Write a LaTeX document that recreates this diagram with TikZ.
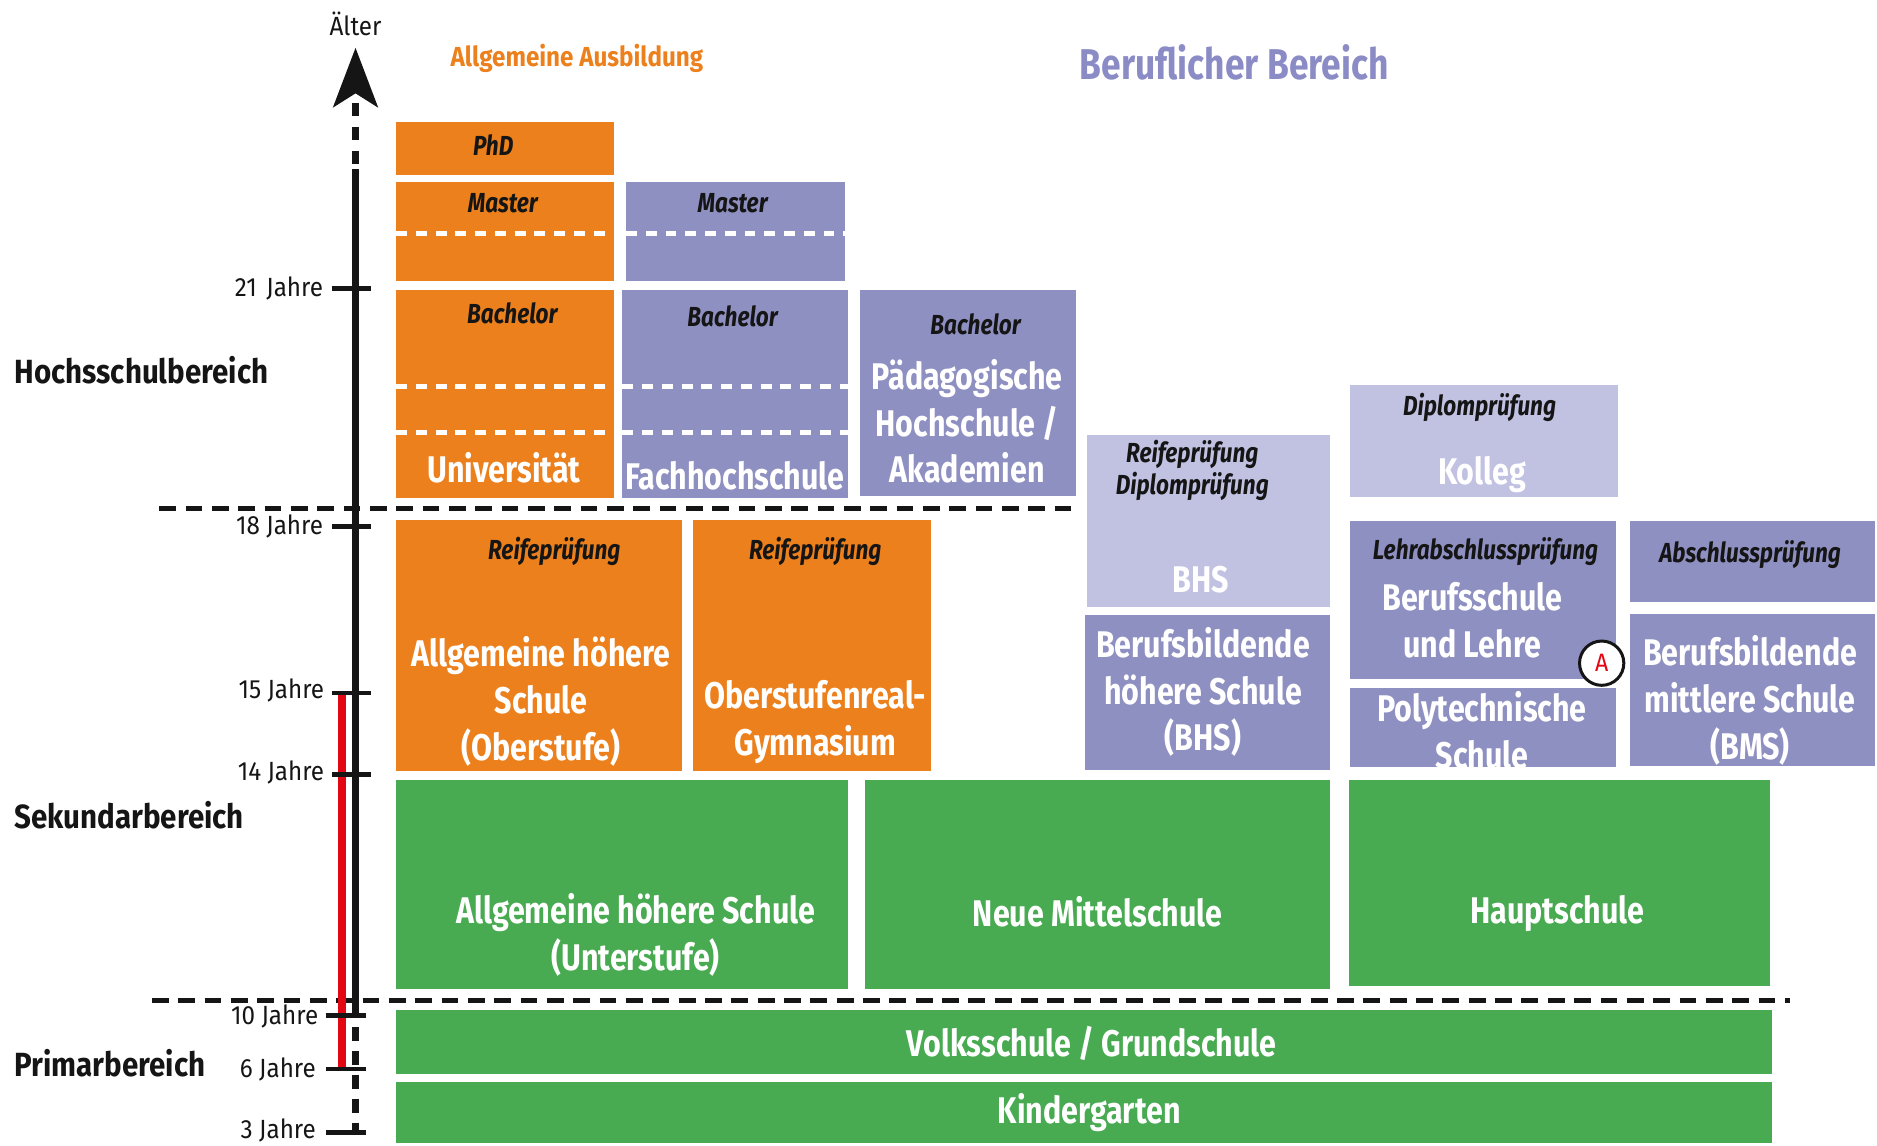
\documentclass[tikz,border=0pt]{standalone}
\usepackage{fontspec}
\setmainfont{Fira Sans}[FakeStretch=0.82]
\newfontfamily\agefont{Fira Sans}[FakeStretch=0.92]
\newfontfamily\secfont{Fira Sans}[FakeStretch=0.88]
\definecolor{orng}{HTML}{EC801C}
\definecolor{purp}{HTML}{8F90C2}
\definecolor{lpurp}{HTML}{C1C2E2}
\definecolor{grn}{HTML}{48AA51}
\definecolor{redl}{HTML}{E30613}
\definecolor{ttl}{HTML}{8B8CC6}
\definecolor{ink}{HTML}{151515}
\tikzset{
  blk/.style={inner sep=0, outer sep=0, anchor=north west, draw=none},
  wt/.style={text=white, font=\fontsize{31}{39}\selectfont\bfseries, align=center, inner sep=0},
  lb/.style={text=ink, font=\fontsize{23}{27}\selectfont\bfseries\itshape, align=center, inner sep=0},
  wdash/.style={white, line width=4pt, dash pattern=on 9pt off 7.5pt},
  bdash/.style={ink, line width=4.5pt, dash pattern=on 14pt off 8pt},
  sec/.style={text=ink, font=\secfont\fontsize{28}{30}\selectfont\bfseries, anchor=west, inner sep=0},
  age/.style={text=ink, font=\agefont\fontsize{22}{24}\selectfont, anchor=east, inner sep=0},
  tickline/.style={line width=4pt, ink},
  axisline/.style={line width=5.5pt, ink},
}
\newcommand\bx[6]{\node[blk, fill=#6, minimum width=#4pt, minimum height=#5pt] (#1) at (#2,#3) {};}
\begin{document}
\begin{tikzpicture}[x=1pt, y=-1pt]
\useasboundingbox (0,0) rectangle (1568,957);
% headers
\node[text=ink, font=\agefont\fontsize{22}{24}\selectfont, inner sep=0] (alter) at (297,20) {Älter};
\node[text=orng, font=\secfont\fontsize{23}{25}\selectfont\bfseries, inner sep=0] (allg) at (482,49) {Allgemeine Ausbildung};
\node[text=ttl, font=\fontsize{36}{38}\selectfont\bfseries, inner sep=0] (beruf) at (1031,52) {Beruflicher Bereich};
% section labels
\node[sec] (hoch) at (12,309) {Hochsschulbereich};
\node[sec] (sek) at (12,681) {Sekundarbereich};
\node[sec] (prim) at (12,888) {Primarbereich};
% boxes
\bx{phd}{331}{102}{182}{44}{orng}
\bx{mo}{331}{152}{182}{83}{orng}
\bx{mp}{523}{152}{183}{83}{purp}
\bx{bo}{331}{242}{182}{174}{orng}
\bx{bp}{520}{242}{188}{174}{purp}
\bx{ph}{718}{242}{181}{172}{purp}
\bx{bhsl}{908}{363}{203}{144}{lpurp}
\bx{bhs}{906}{514}{205}{129}{purp}
\bx{kol}{1128}{322}{224}{93}{lpurp}
\bx{bsl}{1128}{435}{222}{132}{purp}
\bx{pts}{1128}{575}{222}{66}{purp}
\bx{abs}{1362}{435}{204}{68}{purp}
\bx{bms}{1362}{513}{204}{127}{purp}
\bx{ahso}{331}{434}{239}{210}{orng}
\bx{org}{579}{434}{199}{210}{orng}
\bx{ahsu}{331}{652}{377}{174}{grn}
\bx{nms}{723}{652}{388}{174}{grn}
\bx{hs}{1127}{652}{352}{172}{grn}
\bx{vs}{331}{844}{1149}{53}{grn}
\bx{kg}{331}{904}{1149}{51}{grn}
% white dashed lines in boxes
\draw[wdash] (331,195) -- (513,195);
\draw[wdash] (523,195) -- (706,195);
\draw[wdash] (331,323) -- (513,323);
\draw[wdash] (331,361) -- (513,361);
\draw[wdash] (520,323) -- (708,323);
\draw[wdash] (520,361) -- (708,361);
% separators
\draw[bdash] (133,425) -- (900,425);
\draw[bdash] (127,836) -- (1495,836);
% labels in boxes
\node[lb] (tphd) at (412,121) {PhD};
\node[lb] (tmo) at (420,170) {Master};
\node[lb] (tmp) at (612,170) {Master};
\node[lb] (tbo) at (428,262) {Bachelor};
\node[lb] (tbp) at (612,264) {Bachelor};
\node[lb] (tph) at (815,271) {Bachelor};
\node[wt] (uni) at (421,391) {Universität};
\node[wt] (fh) at (614,397) {Fachhochschule};
\node[wt] (pha) at (808,352) {Pädagogische\\Hochschule /\\Akademien};
\node[lb] (rdp) at (996,393) {Reifeprüfung\\Diplomprüfung};
\node[wt] (tbhs) at (1003,484) {BHS};
\node[wt] (tbhs2) at (1005,578) {Berufsbildende\\höhere Schule\\(BHS)};
\node[lb] (tdip) at (1236,340) {Diplomprüfung};
\node[wt] (tkol) at (1238,396) {Kolleg};
\node[lb] (tlap) at (1241,461) {Lehrabschlussprüfung};
\node[wt] (tbs) at (1230,518) {Berufsschule\\und Lehre};
\node[wt] (tpts) at (1238,610) {Polytechnische\\Schule};
\node[lb] (tabs) at (1462,463) {Abschlussprüfung};
\node[wt] (tbms) at (1462,585) {Berufsbildende\\mittlere Schule\\(BMS)};
\node[lb] (tr1) at (463,461) {Reifeprüfung};
\node[wt] (tahso) at (452,586) {Allgemeine höhere\\Schule\\(Oberstufe)};
\node[lb] (tr2) at (681,461) {Reifeprüfung};
\node[wt] (torg) at (681,603) {Oberstufenreal-\\Gymnasium};
\node[wt] (tahsu) at (531,781) {Allgemeine höhere Schule\\(Unterstufe)};
\node[wt] (tnms) at (917,762) {Neue Mittelschule};
\node[wt] (ths) at (1301,763) {Hauptschule};
\node[wt] (tvs) at (912,872) {Volksschule / Grundschule};
\node[wt] (tkg) at (910,929) {Kindergarten};
\node[circle, draw=ink, line width=2.5pt, fill=white, minimum size=37pt, inner sep=0, text=redl, font=\agefont\fontsize{21}{22}\selectfont] (A) at (1338,554) {A};
% axis
\coordinate (atip) at (297,40);
\coordinate (abase) at (297,86);
\coordinate (s1) at (297,141);
\coordinate (s2) at (297,838);
\coordinate (abot) at (297,948);
\coordinate (r1) at (286,581);
\coordinate (r2) at (286,892);
\draw[redl, line width=6.5pt] (r1) -- (r2);
\draw[axisline, dash pattern=on 11pt off 9pt] (abase) -- (s1);
\draw[axisline] (s1) -- (s2);
\draw[axisline, dash pattern=on 12pt off 8pt] (s2) -- (abot);
\fill[ink] (atip) -- (316,90) -- (297,78) -- (278,90) -- cycle;
% ticks and age labels
\draw[tickline] (277,241) -- (310,241);
\draw[tickline] (277,440) -- (310,440);
\draw[tickline] (277,579) -- (310,579);
\draw[tickline] (277,647) -- (310,647);
\draw[tickline] (272,848) -- (306,848);
\draw[tickline] (272,893) -- (306,893);
\draw[tickline] (272,946) -- (306,946);
\node[age] (a21) at (270,241) {21\hspace{8pt}Jahre};
\node[age] (a18) at (270,440) {18 Jahre};
\node[age] (a15) at (271,577) {15 Jahre};
\node[age] (a14) at (271,645) {14 Jahre};
\node[age] (a10) at (266,849) {10 Jahre};
\node[age] (a6) at (264,893) {6 Jahre};
\node[age] (a3) at (264,944) {3 Jahre};
\end{tikzpicture}
\end{document}
